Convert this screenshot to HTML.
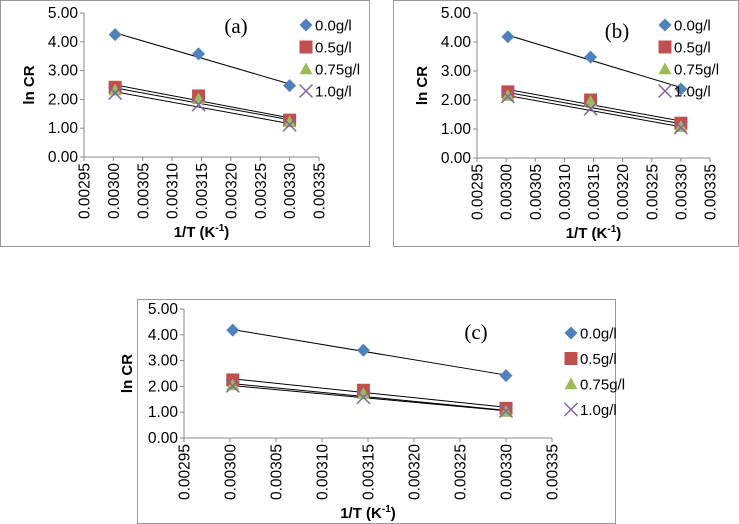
<!DOCTYPE html>
<html><head><meta charset="utf-8"><style>
body{margin:0;background:#fff;width:739px;height:524px;overflow:hidden;font-family:"Liberation Sans",sans-serif;}
svg{position:absolute;left:0;top:0}
</style></head><body>
<svg id="s" width="739" height="524"></svg>
<script>
const xVals=[0.003003,0.003145,0.003300];
const seriesNames=["0.0g/l","0.5g/l","0.75g/l","1.0g/l"];
const yTicks=[0,1,2,3,4,5];
const xTicks=[0.00295,0.00300,0.00305,0.00310,0.00315,0.00320,0.00325,0.00330,0.00335];
const aVals=[[4.25,3.58,2.48],[2.42,2.12,1.28],[2.32,2.02,1.22],[2.22,1.82,1.12]];
const bVals=[[4.18,3.48,2.38],[2.28,2.0,1.2],[2.15,1.95,1.08],[2.12,1.7,1.05]];
const cVals=[[4.18,3.4,2.42],[2.25,1.85,1.15],[2.05,1.72,1.02],[2.02,1.58,1.05]];
const colors=["#4F81BD","#C0504D","#9BBB59","#8064A2"];
const NS="http://www.w3.org/2000/svg";
const svg=document.getElementById('s');
function el(t,a,p){const e=document.createElementNS(NS,t);for(const k in a)e.setAttribute(k,a[k]);(p||svg).appendChild(e);return e;}
function marker(g,k,cx,cy,s){
 if(k===0)return el('polygon',{points:`${cx},${cy-s} ${cx+s},${cy} ${cx},${cy+s} ${cx-s},${cy}`,fill:colors[0]},g);
 if(k===1)return el('rect',{x:cx-s,y:cy-s,width:2*s,height:2*s,fill:colors[1]},g);
 if(k===2)return el('polygon',{points:`${cx},${cy-s} ${cx+s},${cy+s*0.8} ${cx-s},${cy+s*0.8}`,fill:colors[2]},g);
 const gg=el('g',{stroke:colors[3],'stroke-width':1.5},g);
 el('line',{x1:cx-s,y1:cy-s,x2:cx+s,y2:cy+s},gg);el('line',{x1:cx-s,y1:cy+s,x2:cx+s,y2:cy-s},gg);return gg;
}
function chart(name,vals,box,L,R,T,B,leg,lab,labPos,ylabX){
 const g=el('g',{});
 
 
 const fr=el('rect',{x:box[0],y:box[1],width:box[2],height:box[3],fill:'none',stroke:'#999','stroke-width':1},g);
 
 
 const xs=v=>L+(v-0.00295)/(0.0004)*(R-L);
 const ys=v=>B-v/5*(B-T);
 el('line',{x1:L,y1:T,x2:L,y2:B,stroke:'#888'},g);
 el('line',{x1:L,y1:B,x2:R,y2:B,stroke:'#888'},g);
 yTicks.forEach(v=>{el('line',{x1:L-4,y1:ys(v),x2:L,y2:ys(v),stroke:'#888'},g);
  const t=el('text',{x:L-6,y:ys(v)+5,'text-anchor':'end','font-size':15.5,fill:'#000'},g);t.textContent=v.toFixed(2);
  });
 xTicks.forEach(v=>{const x=xs(v);el('line',{x1:x,y1:B,x2:x,y2:B+4,stroke:'#888'},g);
  const t=el('text',{x:0,y:0,'text-anchor':'end','font-size':15.5,fill:'#000',transform:`translate(${x+5.5},${B+6}) rotate(-90)`},g);t.textContent=v.toFixed(5);
  });
 const xt=el('text',{x:(L+R)/2,y:B+80,'text-anchor':'middle','font-size':15,'font-weight':'bold'},g);
 xt.innerHTML='1/T  (K<tspan font-size="10" dy="-6">-1</tspan><tspan dy="6">)</tspan>';
 
 const yt=el('text',{x:0,y:0,'text-anchor':'middle','font-size':15,'font-weight':'bold',transform:`translate(${ylabX},${(T+B)/2}) rotate(-90)`},g);yt.textContent='ln CR';
 
 vals.forEach((ser,k)=>{
  const n=ser.length,mx=xVals.reduce((a,b)=>a+b)/n,my=ser.reduce((a,b)=>a+b)/n;
  let sxy=0,sxx=0;for(let i=0;i<n;i++){sxy+=(xVals[i]-mx)*(ser[i]-my);sxx+=(xVals[i]-mx)**2;}
  const m=sxy/sxx,b0=my-m*mx;
  const ln=el('line',{x1:xs(xVals[0]),y1:ys(m*xVals[0]+b0),x2:xs(xVals[2]),y2:ys(m*xVals[2]+b0),stroke:'#000','stroke-width':1},g);
  
 });
 vals.forEach((ser,k)=>ser.forEach((v,i)=>{const mk=marker(g,k,xs(xVals[i]),ys(v),6.5);
  }));
 seriesNames.forEach((s,k)=>{const y=leg[1]+k*leg[2];const mk=marker(g,k,leg[0],y,6.5);
  
  const t=el('text',{x:leg[0]+9,y:y+5.5,'font-size':15},g);t.textContent=s;
  });
 const lb=el('text',{x:labPos[0],y:labPos[1],'font-size':21,'font-family':'Liberation Serif, serif','text-anchor':'middle'},g);lb.textContent=lab;
 
}
chart('a',aVals,[0.5,0.5,369,246],84,319,13,157,[306,25,22],'(a)',[236,33],34);
chart('b',bVals,[393.5,0.5,345,246],477,710,13,158,[665,25,22],'(b)',[617,38],427);
chart('c',cVals,[137.5,299.5,478,224],184,552,309,438,[571,333,25.5],'(c)',[476,339],132);
</script>
</body></html>
